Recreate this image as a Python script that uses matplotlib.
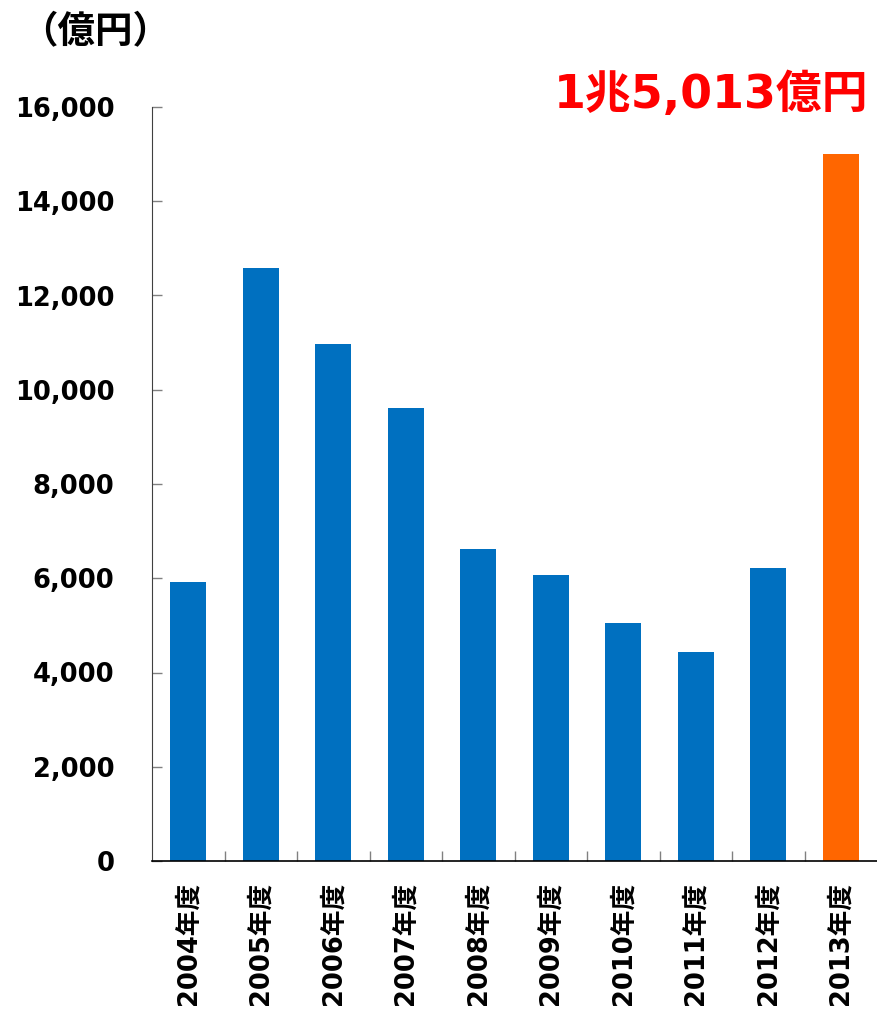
import matplotlib
matplotlib.use("Agg")
import matplotlib.pyplot as plt
import numpy as np
from matplotlib.ticker import FuncFormatter, FixedLocator

plt.rcParams['font.family'] = ['DejaVu Sans', 'Noto Sans CJK JP']

categories = ["2004年度", "2005年度", "2006年度", "2007年度", "2008年度",
              "2009年度", "2010年度", "2011年度", "2012年度", "2013年度"]
values = [5920, 12580, 10970, 9610, 6620, 6070, 5050, 4435, 6220, 15013]
colors = ["#0070C0"] * 9 + ["#FF6600"]
yticks = [0, 2000, 4000, 6000, 8000, 10000, 12000, 14000, 16000]

fig = plt.figure(figsize=(8.77, 10.13), dpi=100)
ax = fig.add_axes([152/877, 1-861/1013, 1-152/877, (861-107)/1013])

x = np.arange(len(categories))
ax.bar(x, values, width=0.5, color=colors)
ax.set_xlim(-0.5, len(categories) - 0.5)
ax.set_ylim(0, 16000)

ax.spines['top'].set_visible(False)
ax.spines['right'].set_visible(False)
ax.spines['left'].set_color('#404040')
ax.spines['bottom'].set_color('black')
ax.spines['bottom'].set_linewidth(1.2)

ax.set_yticks(yticks)
ax.yaxis.set_major_formatter(FuncFormatter(lambda v, p: f"{int(v):,}"))
ax.tick_params(axis='y', direction='in', length=7, color='#808080', width=1,
               pad=27, labelsize=18.5)
for lbl in ax.get_yticklabels():
    lbl.set_fontweight('bold')

ax.set_xticks(x)
ax.set_xticklabels(categories, rotation=90, fontsize=18.5, fontweight='bold')
ax.tick_params(axis='x', which='major', length=0, pad=15)
ax.xaxis.set_minor_locator(FixedLocator(np.arange(0.5, len(categories) - 0.5, 1)))
ax.tick_params(axis='x', which='minor', direction='in', length=7, color='#808080', width=1)

fig.text(20/877, 1-32/1013, "（億円）", fontsize=27, fontweight='bold', va='center', ha='left',
         family=['Noto Sans CJK JP', 'DejaVu Sans'])
fig.text(868/877, 1-95/1013, "1兆5,013億円", fontsize=33, fontweight='bold', color='#FF0000',
         va='center', ha='right')

fig.savefig("out.png", dpi=100)
